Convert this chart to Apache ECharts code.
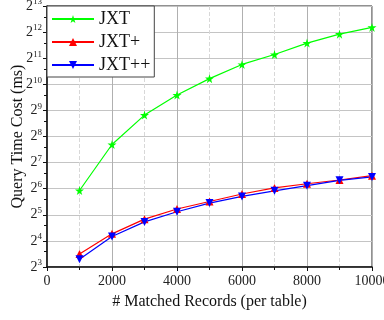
<!DOCTYPE html>
<html>
<head>
<meta charset="utf-8">
<script src="https://cdn.jsdelivr.net/npm/echarts@6/dist/echarts.min.js"></script>
<style>
  html, body { margin: 0; padding: 0; background: #fff; }
  #chart { width: 384px; height: 320px; }
</style>
</head>
<body>
<div id="chart"></div>
<script>
// matched records per table
const records = [1000, 2000, 3000, 4000, 5000, 6000, 7000, 8000, 9000, 10000]
// query time cost (ms)
const jxt = [61, 207, 452, 770, 1190, 1735, 2260, 3060, 3880, 4640]
const jxtPlus = [11.3, 19.3, 28.5, 37.3, 45.6, 55.6, 65.3, 73, 80.6, 90.5]
const jxtPlusPlus = [9.8, 18, 26.5, 34.7, 43.7, 52.1, 60.5, 69.4, 80, 87.5]
const seriesNames = ['JXT', 'JXT+', 'JXT++']

const font = 'Liberation Serif'
const star = 'path://M50,0 L61,35 L98,35 L68,57 L79,91 L50,70 L21,91 L32,57 L2,35 L39,35 Z'
const downTri = 'path://M0,0 L10,0 L5,9 Z'

function pairs (ys) {
  return records.map((x, i) => [x, ys[i]])
}

let chart = echarts.init(document.getElementById('chart'))
chart.setOption({
  animation: false,
  textStyle: { fontFamily: font },
  grid: {
    left: 47,
    right: 12,
    top: 6,
    bottom: 53,
    outerBoundsMode: 'none',
    show: true,
    borderColor: '#222',
    borderWidth: 1
  },
  legend: {
    left: 47,
    top: 6,
    orient: 'vertical',
    backgroundColor: '#fff',
    borderColor: '#444',
    borderWidth: 1,
    borderRadius: 0,
    padding: [4, 4, 3, 4],
    itemGap: 5,
    itemWidth: 42,
    itemHeight: 10,
    textStyle: { fontFamily: font, fontSize: 18, color: '#111' },
    data: seriesNames
  },
  xAxis: {
    type: 'value',
    min: 0,
    max: 10000,
    interval: 2000,
    name: '# Matched Records (per table)',
    nameLocation: 'middle',
    nameGap: 27,
    nameMoveOverlap: false,
    nameTextStyle: { fontFamily: font, fontSize: 16, color: '#111' },
    axisLine: { lineStyle: { color: '#111', width: 1.5 } },
    axisTick: { show: true, length: 4, lineStyle: { color: '#111' } },
    minorTick: { show: true, splitNumber: 2, length: 3, lineStyle: { color: '#111' } },
    axisLabel: { fontFamily: font, fontSize: 14, color: '#222', margin: 7, formatter: v => String(v) },
    splitLine: { show: true, lineStyle: { color: '#b0b0b0', width: 1 } },
    minorSplitLine: { show: true, lineStyle: { color: '#d8d8d8', type: 'dashed' } }
  },
  yAxis: {
    type: 'log',
    logBase: 2,
    min: 8,
    max: 8192,
    interval: 1,
    name: 'Query Time Cost (ms)',
    nameLocation: 'middle',
    nameGap: 21,
    nameMoveOverlap: false,
    nameTextStyle: { fontFamily: font, fontSize: 16, color: '#111' },
    axisLine: { show: true, lineStyle: { color: '#111', width: 1.5 } },
    axisTick: { show: true, length: 4, lineStyle: { color: '#111' } },
    minorTick: { show: true, splitNumber: 2, length: 3, lineStyle: { color: '#111' } },
    axisLabel: {
      margin: 5,
      formatter: v => '{b|2}{s|' + Math.round(Math.log2(v)) + '}',
      rich: {
        b: { fontFamily: font, fontSize: 14, color: '#222' },
        s: { fontFamily: font, fontSize: 9, color: '#222', verticalAlign: 'top', padding: [0, 0, 8, 0] }
      }
    },
    splitLine: { show: true, lineStyle: { color: '#c4c4c4', width: 1 } }
  },
  series: [
    {
      name: 'JXT',
      type: 'line',
      data: pairs(jxt),
      color: '#00ff00',
      symbol: star,
      symbolSize: 9,
      lineStyle: { width: 1.2 }
    },
    {
      name: 'JXT+',
      type: 'line',
      data: pairs(jxtPlus),
      color: '#ff0000',
      symbol: 'triangle',
      symbolSize: 8,
      lineStyle: { width: 1.2 }
    },
    {
      name: 'JXT++',
      type: 'line',
      data: pairs(jxtPlusPlus),
      color: '#0000ff',
      symbol: downTri,
      symbolSize: 8,
      lineStyle: { width: 1.2 }
    }
  ]
})
</script>
</body>
</html>
